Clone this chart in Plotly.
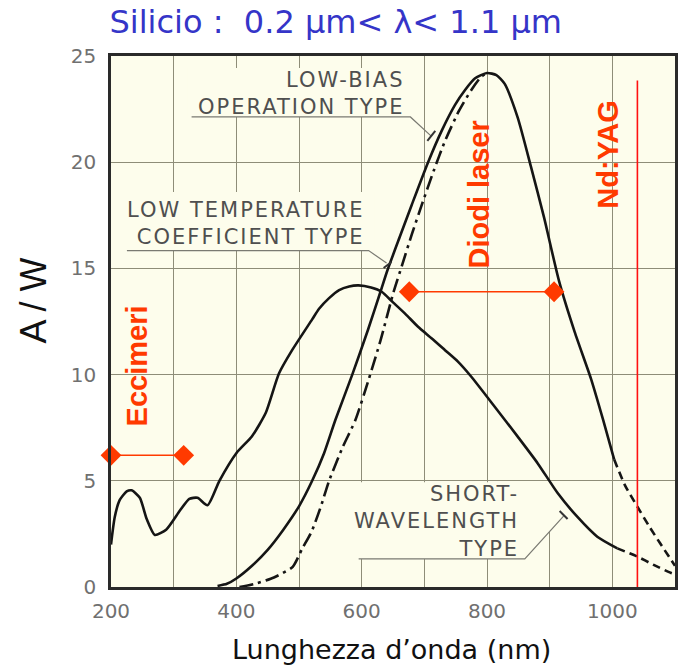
import plotly.graph_objects as go

# wavelength (nm) / responsivity (A/W)
short_nm = [200, 206, 214, 225, 233, 246, 257, 270, 288, 310, 325, 338, 354, 373, 400, 425, 447, 468, 489,
	521, 532, 548, 564, 580, 595, 615, 632, 650, 670, 690, 712, 733, 754, 775, 812, 849, 881, 913, 944, 976, 1008]
short_aw = [2.0, 3.3, 4.1, 4.5, 4.55, 4.2, 3.2, 2.45, 2.7, 3.6, 4.15, 4.2, 3.85, 5.0, 6.3, 7.1, 8.2, 10.05, 11.15,
	12.6, 13.1, 13.6, 13.98, 14.15, 14.2, 14.1, 13.9, 13.4, 12.85, 12.25, 11.7, 11.15, 10.6, 9.9, 8.5, 7.08, 5.82, 4.41, 3.31, 2.37, 1.82]
short_tail_nm = [1008, 1040, 1066, 1093, 1100]
short_tail_aw = [1.82, 1.43, 1.04, 0.67, 0.6]

lowtemp_nm = [370, 385, 400, 425, 450, 475, 500, 521, 540, 558, 585, 610, 630, 641, 661, 680, 706, 728, 749,
	765, 781, 800, 815, 828, 849, 870, 891, 915, 940, 966, 985, 1003]
lowtemp_aw = [0.05, 0.15, 0.4, 1.0, 1.75, 2.7, 3.8, 5.0, 6.3, 7.86, 10.0, 12.1, 13.9, 14.9, 16.5, 18.0, 20.0, 21.5, 22.7,
	23.4, 23.95, 24.2, 24.1, 23.7, 22.1, 19.8, 17.4, 14.4, 12.0, 9.8, 7.9, 6.0]
lowtemp_tail_nm = [1003, 1020, 1040, 1060, 1076, 1100]
lowtemp_tail_aw = [6.0, 4.8, 3.78, 2.8, 2.07, 1.0]

lowbias_nm = [405, 430, 460, 490, 505, 520, 535, 548, 570, 590, 611, 630, 651, 665, 680, 696, 715, 733, 755, 775, 790, 800]
lowbias_aw = [0.0, 0.15, 0.45, 0.95, 1.8, 2.6, 3.8, 5.0, 6.6, 7.86, 9.75, 11.6, 13.9, 15.2, 16.6, 18.0, 19.6, 21.0, 22.4, 23.4, 24.0, 24.2]

# laser ranges
eccimeri_nm = [200, 316]
eccimeri_aw = [6.2, 6.2]
diodi_nm = [676, 907]
diodi_aw = [13.9, 13.9]
ndyag_nm = [1040, 1040]
ndyag_aw = [0, 23.85]

x_ticks = [200, 300, 400, 500, 600, 700, 800, 900, 1000]
x_labels = ["200", "", "400", "", "600", "", "800", "", "1000"]
y_ticks = [0, 5, 10, 15, 20, 25]

RED = "#FF3A00"
INK = "#151515"
GRAY = "#4f4f4f"
BG = "#FDFDEC"

fig = go.Figure()

def curve(x, y, dash, name):
	fig.add_trace(go.Scatter(x=x, y=y, mode="lines", name=name, line=dict(color=INK, width=2.6, dash=dash, shape="spline", smoothing=0.6)))

curve(short_nm, short_aw, "solid", "short-wavelength")
curve(short_tail_nm, short_tail_aw, "8px,5px", "short-wavelength tail")
curve(lowtemp_nm, lowtemp_aw, "solid", "low temperature coefficient")
curve(lowtemp_tail_nm, lowtemp_tail_aw, "8px,5px", "low temperature tail")
curve(lowbias_nm, lowbias_aw, "14px,5px,3px,5px", "low-bias")

for xs, ys in [(eccimeri_nm, eccimeri_aw), (diodi_nm, diodi_aw)]:
	fig.add_trace(go.Scatter(x=xs, y=ys, mode="lines+markers", cliponaxis=False, line=dict(color=RED, width=1.6),
		marker=dict(symbol="diamond", size=16, color=RED)))
fig.add_trace(go.Scatter(x=ndyag_nm, y=ndyag_aw, mode="lines", line=dict(color="#FF1010", width=1.6)))

# cream boxes hiding the grid behind the labels
box = dict(fillcolor=BG, line=dict(width=0), layer="between")
fig.add_shape(type="rect", x0=322, x1=684, y0=22.13, y1=24.43, **box)
fig.add_shape(type="rect", x0=211, x1=620, y0=15.84, y1=18.6, **box)
fig.add_shape(type="path", path="M 592,4.93 L 922,4.93 L 922,3.34 L 860.3,1.32 L 592,1.32 Z", **box)

# leader lines
lead = dict(color="#7a7a72", width=1.2)
fig.add_shape(type="path", path="M 328.6,22.13 L 677.8,22.13 L 711,21.23", line=lead)
fig.add_shape(type="path", path="M 225.4,15.84 L 611.1,15.84 L 639.7,15.25", line=lead)
fig.add_shape(type="path", path="M 595.2,1.32 L 860.3,1.32 L 922.2,3.34", line=lead)
tick = dict(color="#333", width=2)
fig.add_shape(type="line", x0=704.8, y0=21.0, x1=717.5, y1=21.47, line=tick)
fig.add_shape(type="line", x0=635, y0=15.02, x1=647.6, y1=15.3, line=tick)
fig.add_shape(type="line", x0=915.9, y0=3.58, x1=928.6, y1=3.2, line=tick)

def wide(lines):
	return "<br>".join('<span style="letter-spacing:2px">' + s + "</span>" for s in lines)

label_font = dict(family="DejaVu Sans", size=21, color=GRAY)
fig.add_annotation(x=670, y=23.25, text=wide(["LOW-BIAS", "OPERATION TYPE"]), showarrow=False,
	xanchor="right", align="right", font=label_font)
fig.add_annotation(x=608, y=17.1, text=wide(["LOW TEMPERATURE", "COEFFICIENT TYPE"]), showarrow=False,
	xanchor="right", align="right", font=label_font)
fig.add_annotation(x=854, y=3.08, text=wide(["SHORT-", "WAVELENGTH", "TYPE"]), showarrow=False,
	xanchor="right", align="right", font=label_font)

red_font = dict(family="Liberation Sans", size=29, color=RED)
fig.add_annotation(x=242, y=10.4, text="<b>Eccimeri</b>", textangle=-90, showarrow=False, font=red_font)
fig.add_annotation(x=788, y=18.5, text="<b>Diodi laser</b>", textangle=-90, showarrow=False, font=red_font)
fig.add_annotation(x=993, y=20.4, text="<b>Nd:YAG</b>", textangle=-90, showarrow=False, font=red_font)

# axis titles placed by hand
fig.add_annotation(xref="paper", yref="paper", x=0.497, y=-0.1186, xanchor="center", yanchor="middle",
	text="Lunghezza d\u2019onda (nm)", showarrow=False, font=dict(family="DejaVu Sans", size=27, color="#111"))
fig.add_annotation(xref="paper", yref="paper", x=-0.139, y=0.5386, xanchor="center", yanchor="middle",
	text="A / W", textangle=-90, showarrow=False, font=dict(family="Liberation Sans", size=36, color="#111"))

fig.update_layout(
	width=681, height=669,
	margin=dict(l=111, r=3, t=56, b=82),
	paper_bgcolor="white", plot_bgcolor=BG,
	showlegend=False,
	title=dict(text="Silicio :\u00a0 0.2 \u03bcm< \u03bb< 1.1 \u03bcm", x=0.493, xanchor="center",
		y=1 - 22 / 669, yanchor="middle", yref="container",
		font=dict(family="DejaVu Sans", size=32, color="#3535C8")),
	xaxis=dict(range=[200, 1100], tickvals=x_ticks, ticktext=x_labels, showgrid=True,
		gridcolor="#8e8d78", gridwidth=1.3, zeroline=False, showline=True, mirror=True,
		linecolor="#2a2a2a", linewidth=2.5, ticks="", ticklabelstandoff=4,
		tickfont=dict(family="DejaVu Sans", size=20, color="#707070")),
	yaxis=dict(range=[0, 25], tickvals=y_ticks, showgrid=True,
		gridcolor="#8e8d78", gridwidth=1.3, zeroline=False, showline=True, mirror=True,
		linecolor="#2a2a2a", linewidth=2.5, ticks="", ticklabelstandoff=8,
		tickfont=dict(family="DejaVu Sans", size=20, color="#707070")),
)

fig.write_html("out.html", config={"displayModeBar": False}, post_script="document.body.style.margin='0px';")
